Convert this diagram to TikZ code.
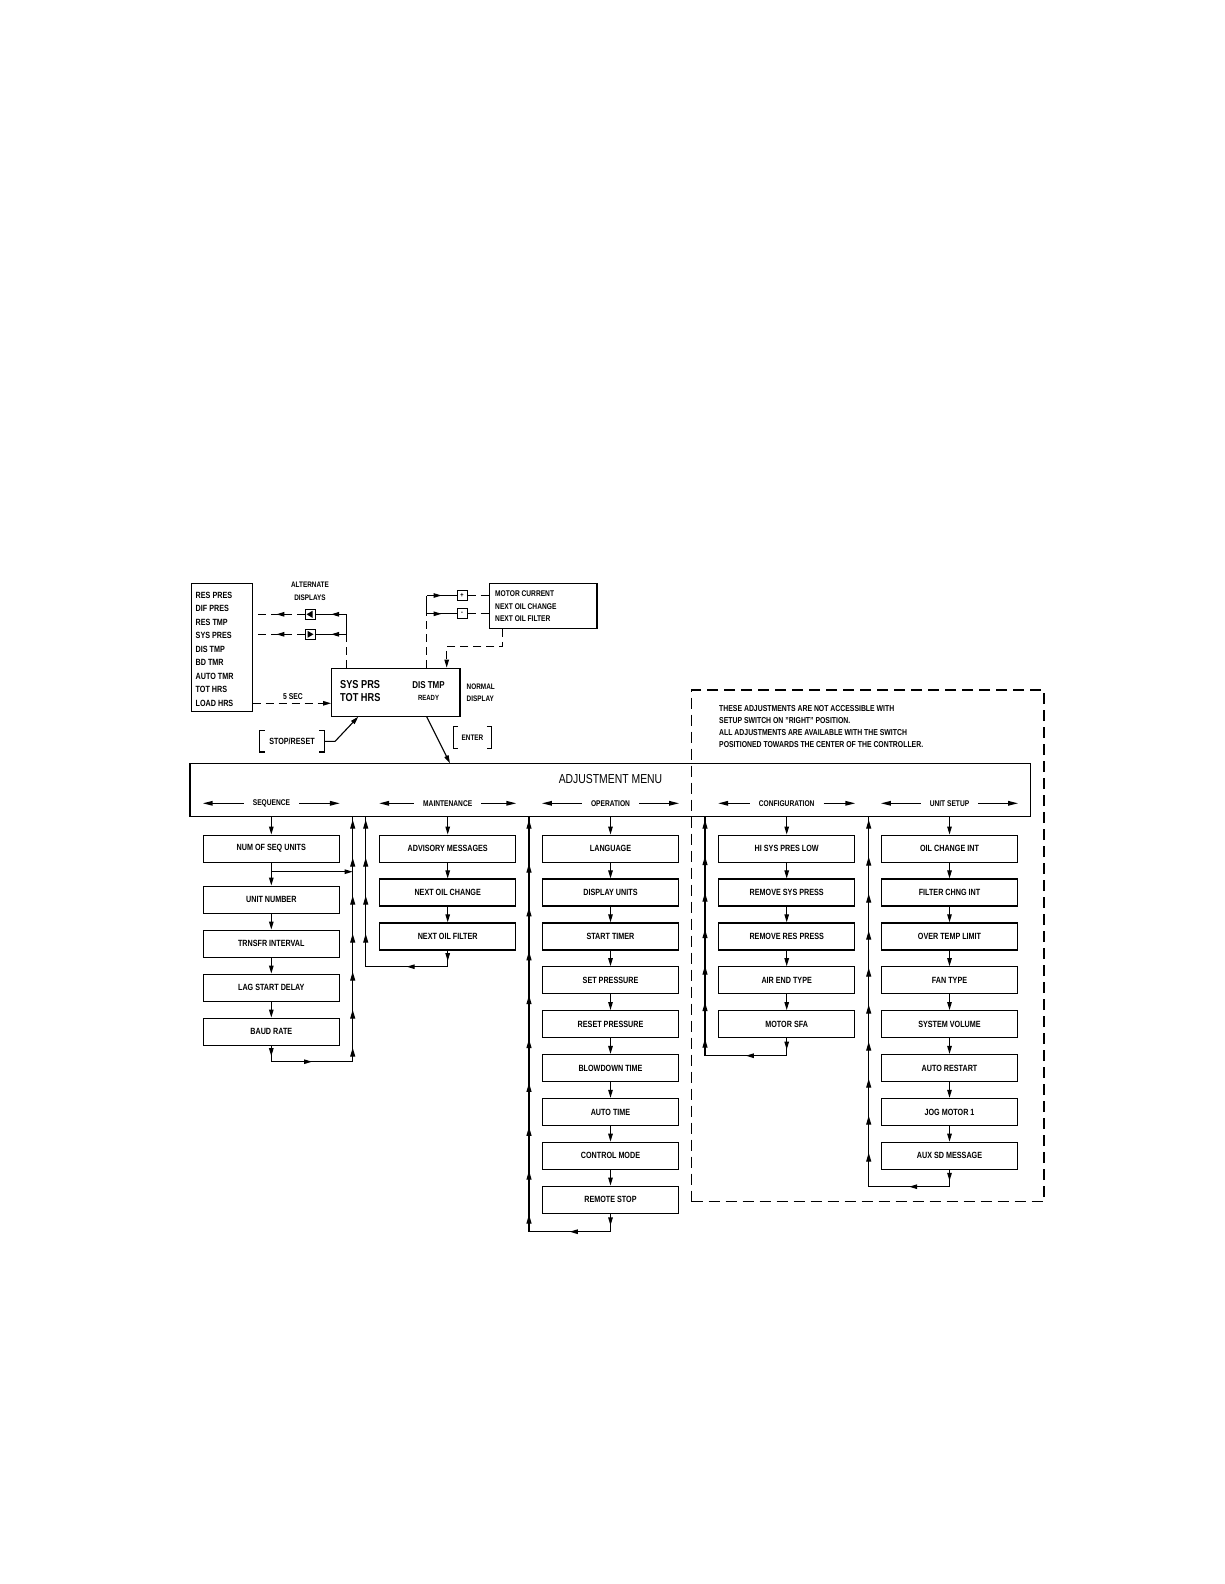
\documentclass[tikz,border=0pt]{standalone}
\usepackage{fontspec}
\setmainfont{Liberation Sans}[FakeStretch=0.8]
\usetikzlibrary{arrows.meta,decorations.markings,calc}
\tikzset{
  ln/.style={line width=1.1pt},
  dl/.style={line width=1.1pt, dash pattern=on 8pt off 5pt},
  item/.style={draw, line width=1.3pt, minimum width=136pt, minimum height=27pt, inner sep=0pt, font=\fontsize{9}{10}\selectfont\bfseries},
  txt/.style={inner sep=0pt, font=\fontsize{#1}{#1}\selectfont\bfseries},
  txt/.default=9,
  sec/.style={inner ysep=0pt, inner xsep=9pt, font=\fontsize{8.3}{9}\selectfont\bfseries},
  btn/.style={draw, line width=1pt, minimum size=10pt, inner sep=0pt, font=\fontsize{7}{7}\selectfont\bfseries},
  midtip/.style={postaction={decorate, decoration={markings, mark=at position #1 with {\arrow{>}}}}},
  midtip/.default=0.5,
  uptips/.style={postaction={decorate, decoration={markings, mark=between positions 3pt and 1 step #1 with {\arrowreversed{Triangle[length=9pt,width=5pt]}}}}},
  secarr/.style={line width=1.4pt, -{Triangle[length=10pt,width=4.5pt]}},
}
\begin{document}
\begin{tikzpicture}[x=1pt,y=-1pt, >={Triangle[length=8pt,width=4.5pt]}]
\useasboundingbox (0,0) rectangle (1224,1584);

% ---------- top area ----------
\node[draw, line width=1.1pt, minimum width=61pt, minimum height=128.4pt, inner sep=0pt] (list) at (222.2,647.5) {};
\foreach \t [count=\i] in {RES PRES, DIF PRES, RES TMP, SYS PRES, DIS TMP, BD TMR, AUTO TMR, TOT HRS, LOAD HRS}
  \node[txt=9, anchor=west] (li\i) at (195.5,{595+13.5*(\i-1)}) {\t};

\node[txt=8] (alt1) at (310,585) {ALTERNATE};
\node[txt=8] (alt2) at (310,598) {DISPLAYS};

\node[btn] (bL) at (310,614.3) {};
\fill ([xshift=-3.5pt]bL.center) -- ++(6,-3.5) -- ++(0,7) -- cycle;
\node[btn] (bR) at (310,634.3) {};
\fill ([xshift=3.5pt]bR.center) -- ++(-6,-3.5) -- ++(0,7) -- cycle;

\node[draw, line width=1.3pt, minimum width=128.3pt, minimum height=48.4pt, inner sep=0pt] (nd) at (395.85,692.5) {};
\node[txt=11.5, anchor=west] (nd1) at (340,685) {SYS PRS};
\node[txt=11.5, anchor=west] (nd2) at (340,697.7) {TOT HRS};
\node[txt=10] (nd3) at (428.5,685) {DIS TMP};
\node[txt=7.5] (nd4) at (428.5,697.7) {READY};
\node[txt=8, anchor=west] (norm1) at (466.5,686.7) {NORMAL};
\node[txt=8, anchor=west] (norm2) at (466.5,698.3) {DISPLAY};

\node[draw, line width=1.3pt, minimum width=107.5pt, minimum height=45pt, inner sep=0pt] (mbox) at (543.25,605.8) {};
\node[txt=8.3, anchor=west] (mb1) at (495,594) {MOTOR CURRENT};
\node[txt=8.3, anchor=west] (mb2) at (495,606.5) {NEXT OIL CHANGE};
\node[txt=8.3, anchor=west] (mb3) at (495,619) {NEXT OIL FILTER};

\node[btn] (bP) at (462,595.5) {+};
\node[btn] (bM) at (462,613.8) {-};

% left verticals
\coordinate (lv1) at (346.7,614.3);
\coordinate (lv2) at (346.7,634.3);
\draw[dl] (nd.north -| lv2) -- (lv2);
\draw[ln] (lv2) -- (lv1);
\draw[ln, midtip] (lv1) -- (bL.east);
\draw[ln, midtip] (lv2) -- (bR.east);
\draw[dl, midtip=0.55] (bL.west) -- (list.east |- bL);
\draw[dl, midtip=0.55] (bR.west) -- (list.east |- bR);

% right verticals
\coordinate (rv1) at (426.7,595.5);
\coordinate (rv2) at (426.7,613.8);
\draw[dl] (nd.north -| rv2) -- (rv2);
\draw[ln] (rv2) -- (rv1);
\draw[ln, midtip] (rv1) -- (bP.west);
\draw[ln, midtip] (rv2) -- (bM.west);
\draw[dl] (bP.east) -- (mbox.west |- bP);
\draw[dl] (bM.east) -- (mbox.west |- bM);
\coordinate (mr1) at (502.7,646.7);
\coordinate (mr2) at (446.7,646.7);
\draw[dl, ->] (mbox.south -| mr1) -- (mr1) -- (mr2) -- (nd.north -| mr2);

% 5 sec
\coordinate (fs) at (252.7,703.3);
\draw[dl, ->] (fs) -- (nd.west |- fs);
\node[txt=8.5] (fivesec) at (293,696.5) {5 SEC};

% stop/reset
\node[txt=9, minimum width=64pt, minimum height=20.7pt] (stop) at (292,741.4) {STOP/RESET};
\draw[ln] ([xshift=5pt]stop.north west) -- (stop.north west) -- (stop.south west) -- ([xshift=5pt]stop.south west);
\draw[ln] ([xshift=-5pt]stop.north east) -- (stop.north east) -- (stop.south east) -- ([xshift=-5pt]stop.south east);
\coordinate (stk) at (335,741.4);
\coordinate (stip) at (358.3,716.7);
\draw[ln, ->] (stop.east) -- (stk) -- (stip);

% enter
\node[txt=8, minimum width=38.4pt, minimum height=21.6pt] (enter) at (472.5,737.5) {ENTER};
\draw[ln] ([xshift=5pt]enter.north west) -- (enter.north west) -- (enter.south west) -- ([xshift=5pt]enter.south west);
\draw[ln] ([xshift=-5pt]enter.north east) -- (enter.north east) -- (enter.south east) -- ([xshift=-5pt]enter.south east);
\coordinate (ndo) at (426.7,716.7);
\coordinate (entip) at (450,763.3);
\draw[ln, ->] (ndo) -- (entip);

% ---------- setup zone ----------
\node[draw, line width=1.1pt, dash pattern=on 11pt off 6pt, minimum width=352.3pt, minimum height=511.7pt, inner sep=0pt] (zone) at (867.85,945.85) {};
\node[txt=8.6, anchor=west] (n1) at (719,708.3) {THESE ADJUSTMENTS ARE NOT ACCESSIBLE WITH};
\node[txt=8.6, anchor=west] (n2) at (719,720.5) {SETUP SWITCH ON "RIGHT" POSITION.};
\node[txt=8.6, anchor=west] (n3) at (719,732.7) {ALL ADJUSTMENTS ARE AVAILABLE WITH THE SWITCH};
\node[txt=8.6, anchor=west] (n4) at (719,745) {POSITIONED TOWARDS THE CENTER OF THE CONTROLLER.};

% ---------- menu ----------
\node[draw, line width=1.1pt, minimum width=840.7pt, minimum height=53.4pt, inner sep=0pt] (menu) at (610.35,790) {};
\node[inner sep=0pt, font=\fontsize{13}{13}\selectfont] (title) at (610.5,779) {ADJUSTMENT MENU};

% columns
\node[item] (s1) at (271.3,848.7) {NUM OF SEQ UNITS};
\node[item] (s2) at (271.3,899.7) {UNIT NUMBER};
\node[item] (s3) at (271.3,943.7) {TRNSFR INTERVAL};
\node[item] (s4) at (271.3,987.7) {LAG START DELAY};
\node[item] (s5) at (271.3,1031.7) {BAUD RATE};

\foreach \t [count=\i] in {ADVISORY MESSAGES, NEXT OIL CHANGE, NEXT OIL FILTER}
  \node[item] (m\i) at (447.7,{848.7+43.875*(\i-1)}) {\t};
\foreach \t [count=\i] in {LANGUAGE, DISPLAY UNITS, START TIMER, SET PRESSURE, RESET PRESSURE, BLOWDOWN TIME, AUTO TIME, CONTROL MODE, REMOTE STOP}
  \node[item] (o\i) at (610.5,{848.7+43.875*(\i-1)}) {\t};
\foreach \t [count=\i] in {HI SYS PRES LOW, REMOVE SYS PRESS, REMOVE RES PRESS, AIR END TYPE, MOTOR SFA}
  \node[item] (c\i) at (786.7,{848.7+43.875*(\i-1)}) {\t};
\foreach \t [count=\i] in {OIL CHANGE INT, FILTER CHNG INT, OVER TEMP LIMIT, FAN TYPE, SYSTEM VOLUME, AUTO RESTART, JOG MOTOR 1, AUX SD MESSAGE}
  \node[item] (u\i) at (949.5,{848.7+43.875*(\i-1)}) {\t};

% section labels
\node[sec] (Lseq) at (271.5,803.3) {SEQUENCE};
\node[sec] (Lmnt) at (447.7,803.3) {MAINTENANCE};
\node[sec] (Lop)  at (610.5,803.3) {OPERATION};
\node[sec] (Lcf)  at (786.7,803.3) {CONFIGURATION};
\node[sec] (Lus)  at (949.5,803.3) {UNIT SETUP};
\foreach \L/\B in {Lseq/s1, Lmnt/m1, Lop/o1, Lcf/c1, Lus/u1} {
  \draw[secarr] (\L.west) -- (\L.west -| \B.west);
  \draw[secarr] (\L.east) -- (\L.east -| \B.east);
  \draw[ln, ->] (menu.south -| \B) -- (\B.north);
}

% down arrows
\draw[ln, ->] (s2.south) -- (s3.north);
\draw[ln, ->] (s3.south) -- (s4.north);
\draw[ln, ->] (s4.south) -- (s5.north);
\draw[ln, ->] (s1.south) -- (s2.north);
\draw[ln, ->] (m1.south) -- (m2.north);
\draw[ln, ->] (m2.south) -- (m3.north);
\foreach \i [evaluate=\i as \j using int(\i+1)] in {1,...,8}
  \draw[ln, ->] (o\i.south) -- (o\j.north);
\foreach \i [evaluate=\i as \j using int(\i+1)] in {1,...,4}
  \draw[ln, ->] (c\i.south) -- (c\j.north);
\foreach \i [evaluate=\i as \j using int(\i+1)] in {1,...,7}
  \draw[ln, ->] (u\i.south) -- (u\j.north);

% return lines
\coordinate (sqt) at (352.7,816.7);  \coordinate (sqb) at (352.7,1061.7);
\coordinate (mnt) at (365.7,816.7);  \coordinate (mnb) at (365.7,966.7);
\coordinate (opt) at (529,816.7);    \coordinate (opb) at (529,1231.7);
\coordinate (cft) at (705,816.7);    \coordinate (cfb) at (705,1055.7);
\coordinate (ust) at (868.7,816.7);  \coordinate (usb) at (868.7,1186.7);

\coordinate (sbr) at (271.3,871.7);
\draw[ln, ->] (sbr) -- (sbr -| sqb);

\draw[ln, midtip=0.65] (s5.south) -- (s5.south |- sqb);
\draw[ln, midtip] (s5.south |- sqb) -- (sqb);
\draw[ln, uptips=38pt] (sqt) -- (sqb);

\draw[ln, midtip=0.65] (m3.south) -- (m3.south |- mnb);
\draw[ln, midtip] (m3.south |- mnb) -- (mnb);
\draw[ln, uptips=38pt] (mnt) -- (mnb);

\draw[ln, midtip=0.65] (o9.south) -- (o9.south |- opb);
\draw[ln, midtip] (o9.south |- opb) -- (opb);
\draw[ln, uptips=43.875pt] (opt) -- (opb);

\draw[ln, midtip=0.65] (c5.south) -- (c5.south |- cfb);
\draw[ln, midtip] (c5.south |- cfb) -- (cfb);
\draw[ln, uptips=36.5pt] (cft) -- (cfb);

\draw[ln, midtip=0.65] (u8.south) -- (u8.south |- usb);
\draw[ln, midtip] (u8.south |- usb) -- (usb);
\draw[ln, uptips=37pt] (ust) -- (usb);

\end{tikzpicture}
\end{document}
